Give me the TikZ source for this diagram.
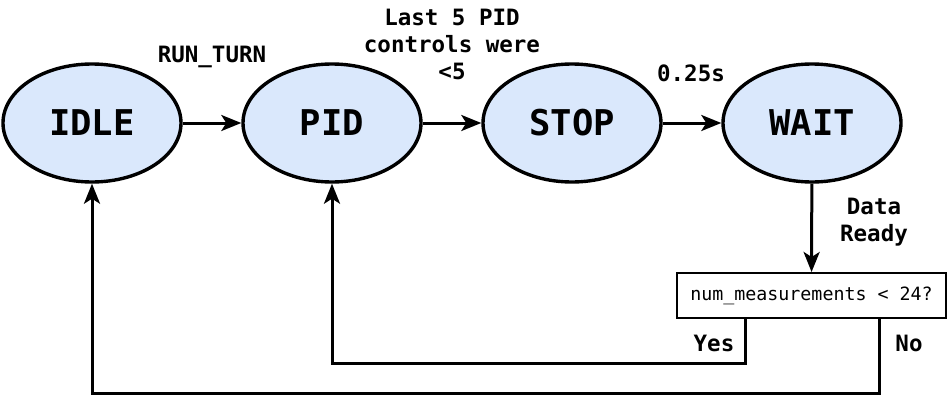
\documentclass[tikz,border=0pt]{standalone}
\usepackage{fontspec}
\setmonofont{DejaVu Sans Mono}
\usetikzlibrary{shapes.geometric,arrows.meta}
\definecolor{stfill}{HTML}{DAE8FC}
\begin{document}
\begin{tikzpicture}[x=1pt,y=-1pt,
  state/.style={ellipse,draw=black,line width=3.4pt,fill=stfill,minimum width=178pt,minimum height=118pt,inner sep=0pt,font=\ttfamily\bfseries\fontsize{35.5}{40}\selectfont},
  lbl/.style={font=\ttfamily\bfseries\fontsize{22.5}{27}\selectfont,align=center,inner sep=0pt},
  decbox/.style={rectangle,draw=black,line width=2pt,fill=white,minimum width=269pt,minimum height=45pt,inner sep=0pt,font=\ttfamily\fontsize{18.3}{20}\selectfont},
  conn/.style={line width=3pt,-{Stealth[length=20pt,width=16pt,inset=5pt]}}]
\useasboundingbox (0,0) rectangle (948,407);
\node[state] (idle) at (92,123) {IDLE};
\node[state] (pid) at (332,123) {PID};
\node[state] (stop) at (572,123) {STOP};
\node[state] (wait) at (812,123) {WAIT};
\node[decbox] (dec) at (811.5,295.5) {num\_measurements < 24?};
\draw[conn] (idle) -- (pid);
\draw[conn] (pid) -- (stop);
\draw[conn] (stop) -- (wait);
\draw[conn] (wait) -- (dec);
\coordinate (yesdn) at (745,363);
\coordinate (nodn) at (879,393);
\draw[conn] (dec.south -| yesdn) |- (yesdn) -| (pid.south);
\draw[conn] (dec.south -| nodn) |- (nodn) -| (idle.south);
\node[lbl] (l1) at (212,57) {RUN\_TURN};
\node[lbl] (l2) at (452,44) {Last 5 PID\\controls were\\<5};
\node[lbl] (l3) at (691,73) {0.25s};
\node[lbl] (l4) at (874,222) {Data\\Ready};
\node[lbl] (l5) at (714,343) {Yes};
\node[lbl] (l6) at (909,343) {No};
\end{tikzpicture}
\end{document}
